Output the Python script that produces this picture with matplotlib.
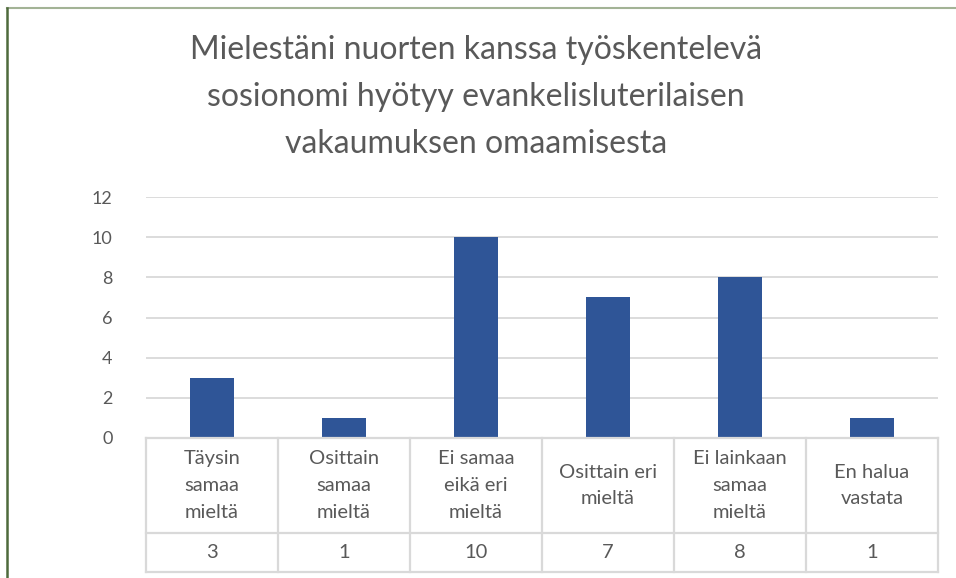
import numpy as np
import matplotlib.pyplot as plt
from matplotlib.lines import Line2D

plt.rcParams['font.family'] = ['Lato', 'DejaVu Sans']

# data
title = "Mielestäni nuorten kanssa työskentelevä\nsosionomi hyötyy evankelisluterilaisen\nvakaumuksen omaamisesta"
categories = ["Täysin\nsamaa\nmieltä", "Osittain\nsamaa\nmieltä", "Ei samaa\neikä eri\nmieltä",
              "Osittain eri\nmieltä", "Ei lainkaan\nsamaa\nmieltä", "En halua\nvastata"]
values = [3, 1, 10, 7, 8, 1]
yticks = [0, 2, 4, 6, 8, 10, 12]

W, H = 956, 578
text_col = '#595959'
grid_col = '#d9d9d9'
bar_col = '#2f5597'

fig = plt.figure(figsize=(W / 100, H / 100), dpi=100)

def box(l, t, r, b):
    return [l / W, 1 - b / H, (r - l) / W, (b - t) / H]

# main bar axes
ax = fig.add_axes(box(146, 197, 938, 438))
x = np.arange(len(values))
ax.bar(x, values, width=0.33, color=bar_col, zorder=3)
ax.set_xlim(-0.5, len(values) - 0.5)
ax.set_ylim(0, 12)
ax.set_yticks(yticks)
ax.set_yticklabels([str(v) for v in yticks], fontsize=13, color=text_col)
ax.tick_params(axis='y', length=0, pad=24)
ax.set_xticks([])
ax.grid(axis='y', color=grid_col, linewidth=1.3, zorder=0)
for s in ax.spines.values():
    s.set_visible(False)

# data table below
tab = fig.add_axes(box(146, 438, 938, 572))
tab.set_xlim(-0.5, len(values) - 0.5)
tab.set_ylim(0, 1)
tab.axis('off')
split = 39 / 134
lw = 1.6
for xv in np.arange(-0.5, len(values), 1.0):
    tab.plot([xv, xv], [0, 1], color=grid_col, lw=lw, clip_on=False)
for yv in [0, split, 1]:
    tab.plot([-0.5, len(values) - 0.5], [yv, yv], color=grid_col, lw=lw, clip_on=False)
for i, (c, v) in enumerate(zip(categories, values)):
    tab.text(i, (1 + split) / 2, c, ha='center', va='center', fontsize=14.5,
             color=text_col, linespacing=1.7)
    tab.text(i, split / 2, str(v), ha='center', va='center', fontsize=14.5, color=text_col)

# title
fig.text(476 / W, 1 - 97 / H, title, ha='center', va='center', fontsize=23,
         color=text_col, linespacing=1.72)

# outer frame (top and left edges visible)
fig.add_artist(Line2D([7 / W, 1], [1 - 8 / H, 1 - 8 / H], color='#a3b396', lw=1.5))
fig.add_artist(Line2D([7 / W, 7 / W], [0, 1 - 8 / H], color='#4e6a3c', lw=1.8))

fig.savefig('out.png', dpi=100)
